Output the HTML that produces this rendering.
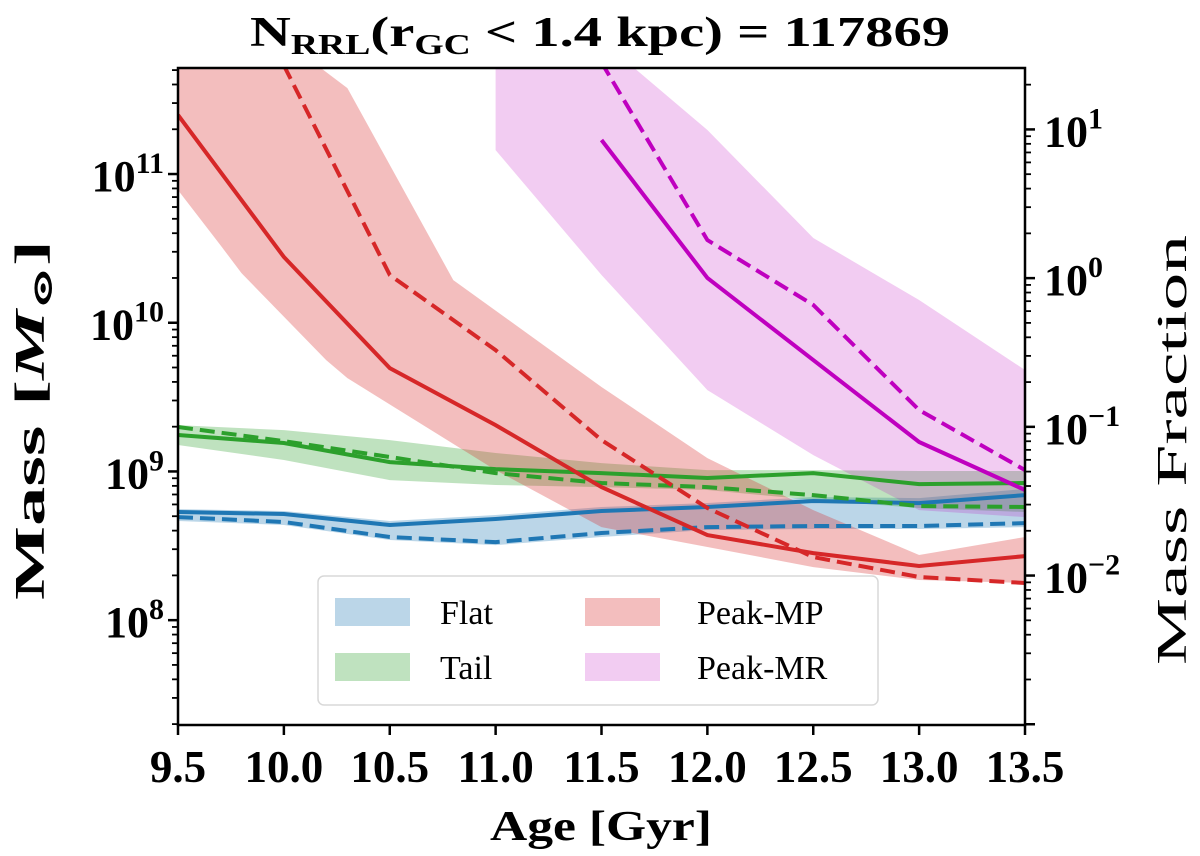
<!DOCTYPE html>
<html><head><meta charset="utf-8"><style>
html,body{margin:0;padding:0;background:#fff;}
svg{display:block;font-family:"Liberation Serif","DejaVu Serif",serif;font-weight:bold;}
</style></head><body>
<svg id="chart" width="1200" height="856" viewBox="0 0 1200 856" xmlns="http://www.w3.org/2000/svg">
<defs><clipPath id="plotclip"><rect x="178" y="68" width="847" height="657"/></clipPath></defs>
<g id="bands" clip-path="url(#plotclip)"></g>
<g id="lines" clip-path="url(#plotclip)"></g>
<g id="axes"></g>
<text x="250" y="46" font-size="42" textLength="700" lengthAdjust="spacingAndGlyphs">N<tspan font-size="28" dy="8">RRL</tspan><tspan dy="-8">(r</tspan><tspan font-size="28" dy="8">GC</tspan><tspan dy="-8"> &lt; 1.4 kpc) = 117869</tspan></text>
<text x="490" y="840" font-size="42" textLength="222" lengthAdjust="spacingAndGlyphs">Age [Gyr]</text>
<text transform="translate(44,600) rotate(-90)" font-size="42" textLength="360" lengthAdjust="spacingAndGlyphs">Mass [<tspan font-style="italic">M</tspan><tspan font-size="28" dy="8">⊙</tspan><tspan dy="-8">]</tspan></text>
<text transform="translate(1186,665) rotate(-90)" font-size="42" font-weight="normal" textLength="430" lengthAdjust="spacingAndGlyphs">Mass Fraction</text>
<g>
<rect x="318" y="576" width="560" height="129" rx="6" fill="#fff" fill-opacity="0.85" stroke="#d8d8d8" stroke-width="1.5"/>
<rect x="335" y="598" width="75" height="28" fill="#1f77b4" fill-opacity="0.3"/>
<text x="440" y="624" font-size="34" font-weight="normal">Flat</text>
<rect x="335" y="653" width="75" height="28" fill="#2ca02c" fill-opacity="0.3"/>
<text x="440" y="679" font-size="34" font-weight="normal">Tail</text>
<rect x="585" y="598" width="75" height="28" fill="#d62728" fill-opacity="0.3"/>
<text x="697" y="624" font-size="34" font-weight="normal">Peak-MP</text>
<rect x="585" y="653" width="75" height="28" fill="#bf00bf" fill-opacity="0.2"/>
<text x="697" y="679" font-size="34" font-weight="normal">Peak-MR</text>
</g>
</svg>
<script>
// x = age (Gyr), values = log10(Mass / Msun)
const ages = [9.5,10.0,10.5,11.0,11.5,12.0,12.5,13.0,13.5];
const flatSolid = [8.727,8.714,8.640,8.680,8.734,8.761,8.801,8.787,8.841];
const flatDashed = [8.693,8.660,8.559,8.525,8.586,8.626,8.633,8.633,8.653];
const flatUpper = [8.747,8.734,8.667,8.707,8.761,8.788,8.828,8.821,8.882];
const flatLower = [8.667,8.640,8.539,8.505,8.559,8.606,8.613,8.613,8.626];
const tailSolid = [9.245,9.191,9.063,9.016,8.989,8.956,8.989,8.915,8.922];
const tailDashed = [9.299,9.204,9.097,8.989,8.922,8.895,8.841,8.767,8.761];
const tailUpper = [9.312,9.278,9.211,9.124,9.056,9.009,9.009,9.003,9.003];
const tailLower = [9.178,9.077,8.942,8.909,8.895,8.875,8.808,8.754,8.727];
const mpSolid = [11.397,10.442,9.695,9.312,8.895,8.572,8.451,8.364,8.431];
const mpDashedAges = [10.0,10.5,11.0,11.5,12.0,12.5,13.0,13.5];
const mpDashed = [11.73,10.321,9.816,9.211,8.754,8.424,8.290,8.250];
const mpUpperAges = [9.5,10.0,10.3,10.8,11.5,12.0,12.5,13.0,13.5];
const mpUpper = [11.9,11.9,11.578,10.287,9.568,9.090,8.740,8.438,8.559];
const mpLowerAges = [9.5,9.7,9.8,10.2,10.3,11.0,11.5,12.0,12.5,13.0,13.5];
const mpLower = [10.892,10.523,10.334,9.749,9.628,9.009,8.626,8.492,8.357,8.270,8.250];
const mrBandAges = [11.0,11.5,12.0,12.5,13.0,13.5];
const mrUpper = [11.9,11.9,11.296,10.570,10.153,9.682];
const mrLower = [11.161,10.321,9.547,9.110,8.740,8.693];
const mrAges = [11.5,12.0,12.5,13.0,13.5];
const mrSolid = [11.229,10.301,9.749,9.198,8.875];
const mrDashed = [11.75,10.556,10.119,9.413,9.009];
const xTicks = [9.5,10.0,10.5,11.0,11.5,12.0,12.5,13.0,13.5];
const yMajor = [8,9,10,11];
const y2Major = [-2,-1,0,1];
const fracOffset = 10.30;

const X0=178,X1=1025,Y0=68,Y1=725;
const AMIN=9.5,AMAX=13.5,LTOP=11.713,LBOT=7.295;
function sx(a){return X0+(a-AMIN)/(AMAX-AMIN)*(X1-X0);}
function sy(l){return Y0+(LTOP-l)/(LTOP-LBOT)*(Y1-Y0);}
const NS='http://www.w3.org/2000/svg';
function mk(tag,parent){const e=document.createElementNS(NS,tag);parent.appendChild(e);return e;}
const bands=document.getElementById('bands'),lines=document.getElementById('lines'),axes=document.getElementById('axes');

function band(xu,up,xl,lo,color,op,name){
  const p=mk('path',bands);
  let d='';
  xu.forEach((a,i)=>{d+=(i?'L':'M')+sx(a).toFixed(1)+','+sy(up[i]).toFixed(1);});
  for(let i=xl.length-1;i>=0;i--){d+='L'+sx(xl[i]).toFixed(1)+','+sy(lo[i]).toFixed(1);}
  p.setAttribute('d',d+'Z');p.setAttribute('fill',color);p.setAttribute('fill-opacity',op);
  
  
}
function line(xs,vs,color,dashed,name){
  const p=mk('polyline',lines);
  p.setAttribute('points',xs.map((a,i)=>sx(a).toFixed(1)+','+sy(vs[i]).toFixed(1)).join(' '));
  p.setAttribute('fill','none');p.setAttribute('stroke',color);p.setAttribute('stroke-width','4');
  if(dashed)p.setAttribute('stroke-dasharray','15,7');
  
  
}
band(ages,flatUpper,ages,flatLower,'#1f77b4',0.3,'flat-band');
band(ages,tailUpper,ages,tailLower,'#2ca02c',0.3,'tail-band');
band(mpUpperAges,mpUpper,mpLowerAges,mpLower,'#d62728',0.3,'peak-mp-band');
band(mrBandAges,mrUpper,mrBandAges,mrLower,'#bf00bf',0.2,'peak-mr-band');
line(ages,flatSolid,'#1f77b4',false,'flat-line');
line(ages,flatDashed,'#1f77b4',true,'flat-dashed-line');
line(ages,tailSolid,'#2ca02c',false,'tail-line');
line(ages,tailDashed,'#2ca02c',true,'tail-dashed-line');
line(ages,mpSolid,'#d62728',false,'peak-mp-line');
line(mpDashedAges,mpDashed,'#d62728',true,'peak-mp-dashed-line');
line(mrAges,mrSolid,'#bf00bf',false,'peak-mr-line');
line(mrAges,mrDashed,'#bf00bf',true,'peak-mr-dashed-line');

const fr=mk('rect',axes);fr.setAttribute('x',X0);fr.setAttribute('y',Y0);fr.setAttribute('width',X1-X0);fr.setAttribute('height',Y1-Y0);
fr.setAttribute('fill','none');fr.setAttribute('stroke','#000');fr.setAttribute('stroke-width','2.5');


function tick(x1,y1,x2,y2,w){const t=mk('line',axes);t.setAttribute('x1',x1);t.setAttribute('y1',y1);t.setAttribute('x2',x2);t.setAttribute('y2',y2);t.setAttribute('stroke','#000');t.setAttribute('stroke-width',w);
  
  }
xTicks.forEach(a=>{
  const x=sx(a);tick(x,Y1,x,Y1+10,2.5);
  const t=mk('text',axes);t.setAttribute('x',x);t.setAttribute('y',Y1+57);t.setAttribute('font-size','45');t.setAttribute('text-anchor','middle');t.textContent=a.toFixed(1);
  
  
});
function logTicks(offset,side){
  for(let d=-5;d<=13;d++){
    for(let m=1;m<10;m++){
      const l=d+Math.log10(m)+offset;
      if(l<LBOT-1e-6||l>LTOP+1e-6)continue;
      const y=sy(l);
      const len=m===1?10:6;
      if(side==='L')tick(X0-len,y,X0,y,m===1?2.5:1.8);else tick(X1,y,X1+len,y,m===1?2.5:1.8);
    }
  }
}
logTicks(0,'L');logTicks(fracOffset,'R');
function sup(x,y,exp,anchor,name){
  const t=mk('text',axes);t.setAttribute('x',x);t.setAttribute('y',y);t.setAttribute('font-size','44');t.setAttribute('text-anchor',anchor);
  const a=mk('tspan',t);a.textContent='10';
  const b=mk('tspan',t);b.setAttribute('font-size','30');b.setAttribute('dy','-18');b.textContent=exp;
  
  
}
yMajor.forEach(e=>{sup(164,sy(e)+17,String(e),'end','y-tick-label');});
y2Major.forEach(e=>{sup(1044,sy(e+fracOffset)+17,e<0?'\u2212'+(-e):String(e),'start','y2-tick-label');});
</script>
</body></html>
